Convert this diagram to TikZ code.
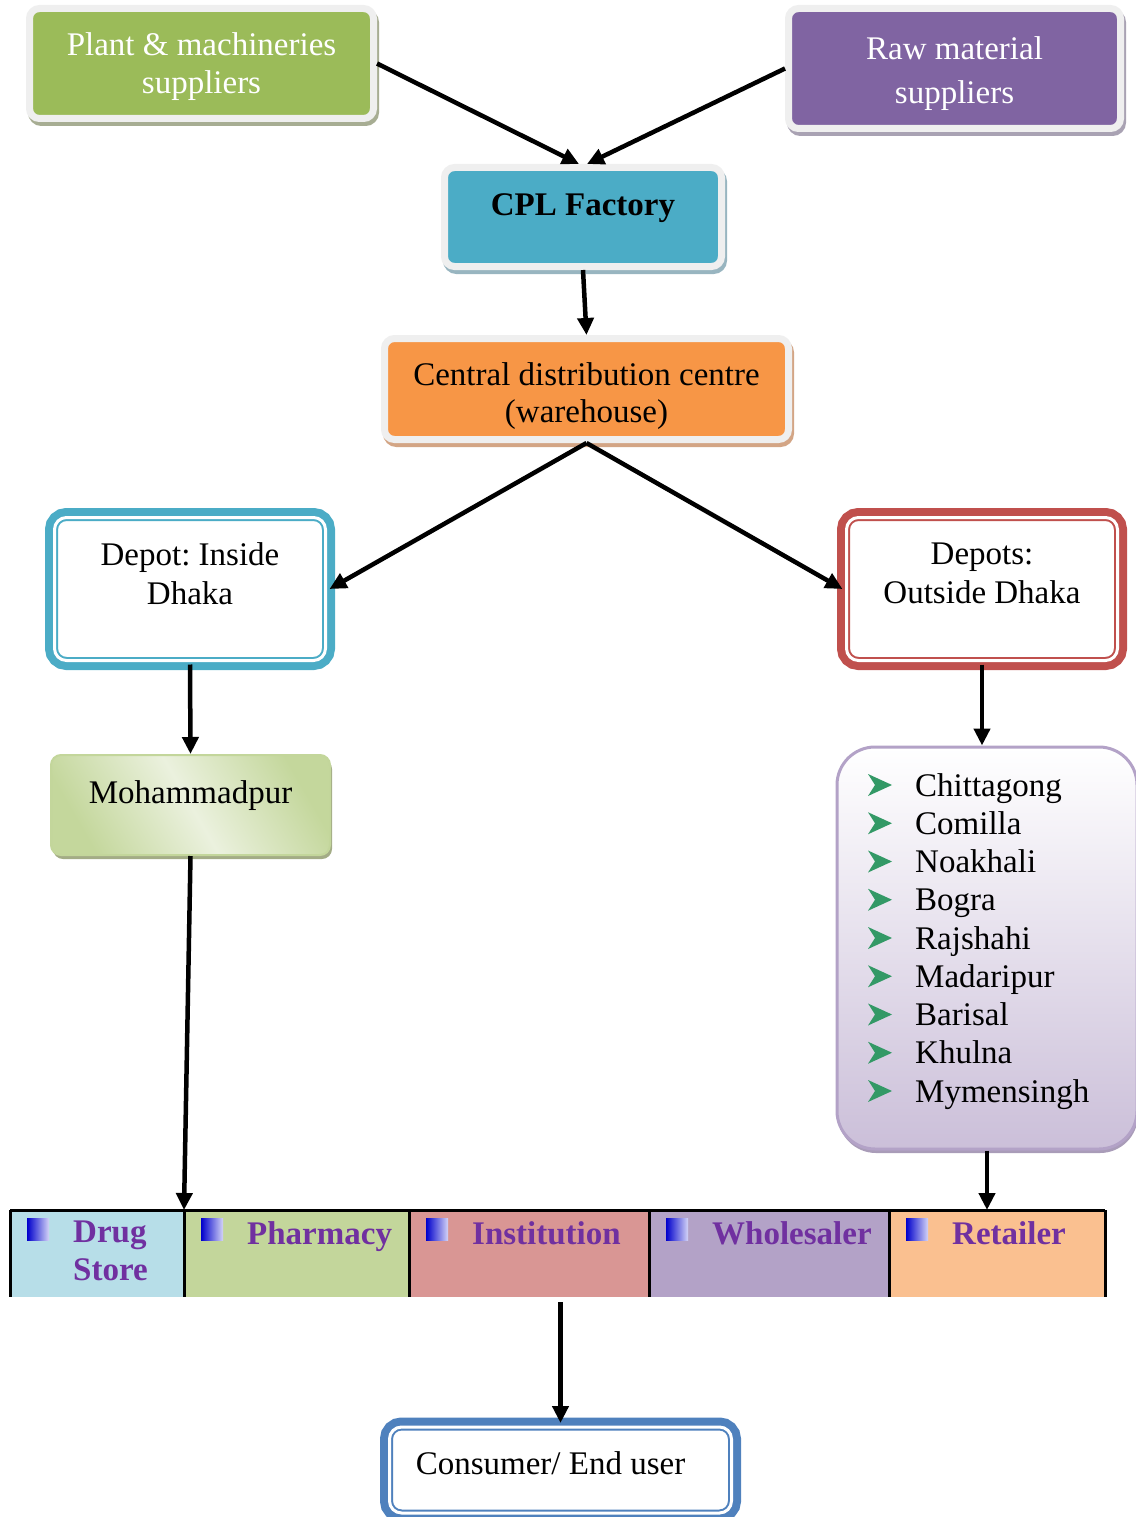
\documentclass[tikz,border=0pt]{standalone}
\usepackage{fontspec}
\setmainfont{Liberation Serif}
\usepackage{tikz}
\usetikzlibrary{positioning,arrows.meta,shadows}
\frenchspacing

\definecolor{plantgreen}{HTML}{9BBB59}
\definecolor{plantshade}{HTML}{A7AD93}
\definecolor{rawpurple}{HTML}{8064A2}
\definecolor{rawshade}{HTML}{A9A2B3}
\definecolor{cplblue}{HTML}{4BACC6}
\definecolor{cplshade}{HTML}{98B5C0}
\definecolor{cdcorange}{HTML}{F79646}
\definecolor{cdcshade}{HTML}{D3A585}
\definecolor{boxrim}{HTML}{EFEFEF}
\definecolor{depinblue}{HTML}{4BACC6}
\definecolor{depoutred}{HTML}{C0504D}
\definecolor{userblue}{HTML}{4F81BD}
\definecolor{mpurdark}{HTML}{C4D79C}
\definecolor{mpurlight}{HTML}{EBF1DE}
\definecolor{mpurline}{HTML}{C3D69B}
\definecolor{mpurshade}{HTML}{A3AC86}
\definecolor{distline}{HTML}{B3A2C7}
\definecolor{distbottom}{HTML}{CBBFD9}
\definecolor{distshade}{HTML}{A99CB8}
\definecolor{bulletgreen}{HTML}{339966}
\definecolor{drugc}{HTML}{B7DEE8}
\definecolor{pharmc}{HTML}{C3D69B}
\definecolor{instc}{HTML}{D99694}
\definecolor{wholec}{HTML}{B3A2C7}
\definecolor{retailc}{HTML}{FAC090}
\definecolor{cellpurple}{HTML}{7030A0}
\definecolor{sqdark}{HTML}{0000CC}
\definecolor{sqlight}{HTML}{D4D4F7}

\begin{document}
\begin{tikzpicture}[x=1pt, y=-1pt,
every node/.style={font=\fontsize{33}{39}\selectfont},
supbox/.style 2 args={rectangle, rounded corners=10pt, draw=boxrim, line width=7pt, fill=#1, inner sep=0pt,
  general shadow={fill=#2, draw=#2, line width=7pt, shadow xshift=2pt, shadow yshift=-4pt}},
dbox/.style={rectangle, rounded corners=12pt, draw=#1, line width=19pt, outer sep=4pt,
  minimum width=271pt, minimum height=143pt,
  postaction={fill=white},
  postaction={draw=#1, line width=2pt, double=white, double distance=3pt}},
mpbox/.style={rectangle, rounded corners=10pt, draw=mpurline, line width=2pt,
  top color=mpurdark, bottom color=mpurdark, middle color=mpurlight, shading angle=-60,
  minimum width=279pt, minimum height=100pt,
  general shadow={fill=mpurshade, shadow xshift=2pt, shadow yshift=-4pt}},
distbox/.style={rectangle, rounded corners=38pt, draw=distline, line width=3pt,
  top color=white, bottom color=distbottom, minimum width=300pt, minimum height=402pt,
  general shadow={fill=distshade, shadow xshift=1pt, shadow yshift=-4pt}},
townitem/.style={anchor=west, inner sep=0pt, text height=23pt, text depth=7pt},
cell/.style={rectangle, fill=#1, inner sep=0pt, outer sep=0pt, minimum height=87pt},
celltxt/.style={font=\fontsize{33}{38}\selectfont\bfseries, text=cellpurple, align=left, inner sep=0pt, anchor=north west},
barline/.style={line width=3pt, black},
flow/.style={line width=4.5pt, -{Triangle[length=17pt, width=16pt]}},
]
\useasboundingbox (0,0) rectangle (1135,1517);

%Suppliers and factory
\node[supbox={plantgreen}{plantshade}, minimum width=344pt, minimum height=110pt,
  label={[text=white, align=center, font=\fontsize{33}{38}\selectfont, yshift=-3.5pt]center:{Plant \& machineries\\suppliers}}] (plant) at (201.5,63.5) {};
\node[supbox={rawpurple}{rawshade}, minimum width=332pt, minimum height=120pt,
  label={[text=white, align=center, font=\fontsize{33}{44}\selectfont, yshift=-5pt]center:{Raw material\\suppliers}}] (raw) at (954.5,68.5) {};
\node[supbox={cplblue}{cplshade}, minimum width=277pt, minimum height=99pt,
  label={[font=\fontsize{33}{39}\selectfont\bfseries, yshift=9pt]center:CPL Factory}] (cpl) at (583,217) {};
\node[supbox={cdcorange}{cdcshade}, minimum width=404pt, minimum height=101pt,
  label={[align=center, font=\fontsize{33}{37}\selectfont, yshift=-7.5pt]center:{Central distribution centre\\(warehouse)}}] (cdc) at (586.5,389) {};

%Depots
\node[dbox=depinblue, label={[align=center, yshift=15pt]center:{Depot: Inside\\Dhaka}}] (depin) at (190,589) {};
\node[dbox=depoutred, label={[align=center, yshift=16pt]center:{Depots:\\Outside Dhaka}}] (depout) at (982,589) {};
\node[mpbox, label={[yshift=9pt]center:Mohammadpur}] (mpur) at (190.5,805) {};
\node[distbox] (dist) at (987,948) {};
\foreach \town [count=\i, evaluate=\i as \ty using {788+38.25*(\i-1)}] in {Chittagong,Comilla,Noakhali,Bogra,Rajshahi,Madaripur,Barisal,Khulna,Mymensingh}{
  \fill[bulletgreen] (868,{\ty-14}) -- ++(24,11) -- ++(-24,11) -- ++(7,-11) -- cycle;
  \node[townitem] (town\i) at (915,\ty) {\town};
}

%Outlets
\node[cell=drugc, minimum width=174pt] (drug) at (97,1253.5) {};
\node[cell=pharmc, minimum width=225pt, right=0pt of drug] (pharm) {};
\node[cell=instc, minimum width=240pt, right=0pt of pharm] (inst) {};
\node[cell=wholec, minimum width=240pt, right=0pt of inst] (whole) {};
\node[cell=retailc, minimum width=216pt, right=0pt of whole] (retail) {};
\foreach \c/\t in {drug/{Drug\\Store}, pharm/Pharmacy, inst/Institution, whole/Wholesaler, retail/Retailer}{
  \shade[left color=sqdark, right color=sqlight] ([shift={(17,8)}]\c.north west) rectangle ++(22,22);
  \node[celltxt] (\c-txt) at ([shift={(63,11)}]\c.north west) {\t};
}
\draw[barline] (drug.north west) -- (retail.north east);
\draw[barline] (drug.north west) -- (drug.south west);
\foreach \c in {drug,pharm,inst,whole,retail}
  \draw[barline] (\c.north east) -- (\c.south east);

\node[dbox=userblue, minimum width=342pt, minimum height=86pt,
  label={[xshift=-10pt, yshift=7pt]center:Consumer/ End user}] (user) at (560.5,1470) {};

%Lines
\draw[flow] (plant.east) -- ([xshift=-4pt]cpl.north);
\draw[flow] (raw.west) -- ([xshift=4pt]cpl.north);
\draw[flow] (cpl.south) -- (cdc.north);
\draw[flow] (cdc.south) -- (depin.east);
\draw[flow] (cdc.south) -- (depout.west);
\draw[flow] (depin.south) -- (mpur.north);
\draw[flow] (depout.south) -- (depout.south |- dist.north);
\draw[flow] (mpur.south) -- (drug.north east);
\draw[flow] (dist.south) -- (dist.south |- retail.north);
\draw[flow, shorten <=5pt] (inst.south -| user.north) -- (user.north);

\end{tikzpicture}
\end{document}
